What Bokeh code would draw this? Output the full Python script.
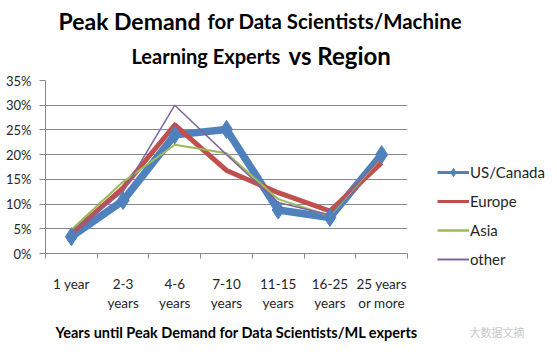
from bokeh.plotting import figure
from bokeh.layouts import column
from bokeh.models import Range1d, FixedTicker, Label, Legend, LegendItem, PrintfTickFormatter
from bokeh.embed import file_html
from bokeh.resources import INLINE

categories = ["1 year", "2-3\nyears", "4-6\nyears", "7-10\nyears", "11-15\nyears", "16-25\nyears", "25 years\nor more"]
us_canada = [3.4, 10.7, 24.0, 25.1, 8.8, 7.3, 20.0]
europe = [4.0, 13.3, 26.0, 16.8, 12.3, 8.6, 18.4]
asia = [4.8, 14.5, 22.0, 20.3, 11.0, 7.6, 19.5]
other = [4.2, 12.5, 30.0, 20.0, 10.3, 7.8, 19.6]
y_ticks = [0, 5, 10, 15, 20, 25, 30, 35]
series_names = ["US/Canada", "Europe", "Asia", "other"]

FONT = "Lato"
W = 545
LB = 45
xs = [i + 0.5 for i in range(len(categories))]
C_US, C_EU, C_AS, C_OT = "#4F81BD", "#C0504D", "#9BBB59", "#8064A2"


def blank(h):
    f = figure(width=W, height=h, frame_width=W - LB, frame_height=h,
               min_border_left=LB, min_border_right=0, min_border_top=0, min_border_bottom=0,
               x_range=Range1d(0, W - LB), y_range=Range1d(0, h),
               output_backend="svg", toolbar_location=None)
    f.axis.visible = False
    f.grid.visible = False
    f.outline_line_color = None
    return f


def lab(f, text, x, y, size, bold=True, color="black", font=FONT, baseline="alphabetic"):
    f.add_layout(Label(x=x, y=y, text=text, text_font=font, text_font_size=size,
                       text_color=color, text_font_style="bold" if bold else "normal",
                       text_baseline=baseline))


# title block
t = blank(72)
lab(t, "Peak Demand", 13, 51.5, "23px")
lab(t, "for Data Scientists/Machine", 162, 51.5, "20.4px")
lab(t, "Learning Experts", 86, 17, "20px")
lab(t, "vs Region", 243, 17, "24px")

# main chart
p = figure(width=W, height=238, frame_width=362, frame_height=173,
           min_border_left=LB, min_border_top=8, min_border_right=138, min_border_bottom=57,
           x_range=Range1d(0, len(categories)), y_range=Range1d(0, 35),
           output_backend="svg", toolbar_location=None)
p.outline_line_color = None
p.xgrid.grid_line_color = None
p.ygrid.grid_line_color = "#8a8a8a"
p.ygrid.ticker = FixedTicker(ticks=y_ticks)

p.xaxis.ticker = FixedTicker(ticks=xs, minor_ticks=list(range(len(categories) + 1)))
p.xaxis.major_label_overrides = {x: c for x, c in zip(xs, categories)}
p.xaxis.major_tick_line_color = None
p.xaxis.minor_tick_line_color = "#8a8a8a"
p.xaxis.minor_tick_out = 5
p.xaxis.minor_tick_in = 0
p.xaxis.axis_line_color = "#8a8a8a"
p.xaxis.major_label_standoff = 16
p.xaxis.major_label_text_font = FONT
p.xaxis.major_label_text_font_size = "13.5px"
p.xaxis.major_label_text_color = "#262626"

p.yaxis.ticker = FixedTicker(ticks=y_ticks)
p.yaxis.formatter = PrintfTickFormatter(format="%d%%")
p.yaxis.axis_line_color = "#8a8a8a"
p.yaxis.major_tick_line_color = "#8a8a8a"
p.yaxis.major_tick_out = 6
p.yaxis.major_tick_in = 0
p.yaxis.minor_tick_line_color = None
p.yaxis.major_label_standoff = 8
p.yaxis.major_label_text_font = FONT
p.yaxis.major_label_text_font_size = "13px"
p.yaxis.major_label_text_color = "#262626"

p.line(xs, us_canada, line_color=C_US, line_width=7.5, line_join="round")
p.line(xs, europe, line_color=C_EU, line_width=5, line_join="round")
p.line(xs, asia, line_color=C_AS, line_width=2)
p.line(xs, other, line_color=C_OT, line_width=1.5)
p.scatter(xs, us_canada, marker="diamond", size=18, fill_color=C_US, line_color=C_US)

# thin legend swatches (hidden renderers used only for the legend glyphs)
l_us = p.line(xs, us_canada, line_color=C_US, line_width=3, visible=False)
l_usm = p.scatter(xs, us_canada, marker="diamond", size=9, fill_color=C_US, line_color=C_US, visible=False)
l_eu = p.line(xs, europe, line_color=C_EU, line_width=3, visible=False)
l_as = p.line(xs, asia, line_color=C_AS, line_width=2.5, visible=False)
l_ot = p.line(xs, other, line_color=C_OT, line_width=2, visible=False)

legend = Legend(items=[
    LegendItem(label=series_names[0], renderers=[l_us, l_usm]),
    LegendItem(label=series_names[1], renderers=[l_eu]),
    LegendItem(label=series_names[2], renderers=[l_as]),
    LegendItem(label=series_names[3], renderers=[l_ot]),
], location=(30, -16), border_line_color=None, background_fill_alpha=0,
    padding=0, margin=0, spacing=9, glyph_width=32, glyph_height=20, label_height=20,
    label_standoff=1, label_text_font=FONT, label_text_font_size="15px", label_text_color="#262626")
p.add_layout(legend, "right")

# bottom block: axis title + watermark
b = blank(30)
lab(b, "Years until  Peak Demand for Data Scientists/ML experts", 10, 11, "14.5px")
lab(b, "大数据文摘", 424, 12, "11px", bold=False, color="#c8c8c8", font="Noto Sans CJK SC", baseline="middle")

layout = column(t, p, b, spacing=0)
open("out.html", "w").write(file_html(layout, INLINE))
